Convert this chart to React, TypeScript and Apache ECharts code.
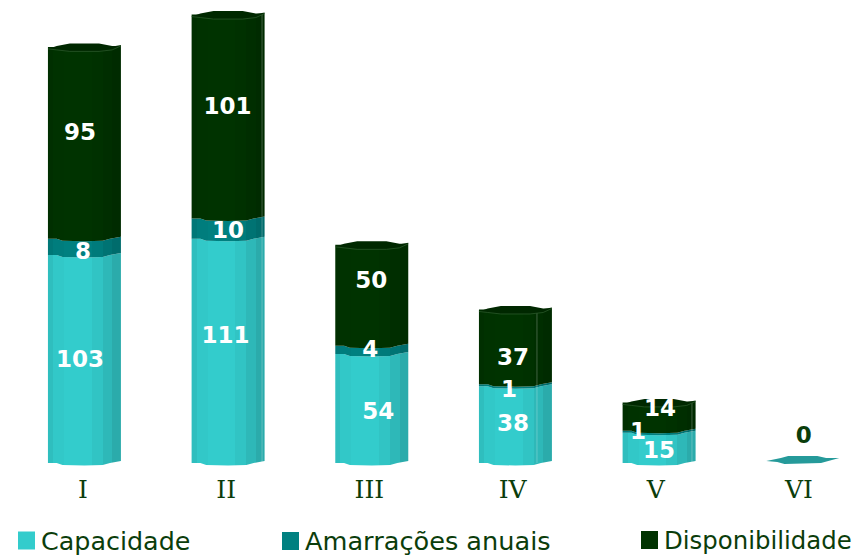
import React, { useEffect, useRef } from "react";
import * as echarts from "echarts";

const categories = ["I", "II", "III", "IV", "V", "VI"];
const capacidade = [103, 111, 54, 38, 15, 0];
const amarracoes = [8, 10, 4, 1, 1, 0];
const disponibilidade = [95, 101, 50, 37, 14, 0];
const seriesNames = ["Capacidade", "Amarrações anuais", "Disponibilidade"];

// layout only
const capOffsets = [[-4.5, 0], [-2.5, -16], [6.5, 3], [-2.5, -2], [0, 2], [0, 0]];
const amaOffsets = [[-1.5, 4], [0, 1], [-1.5, -1], [-6.5, 4], [-21, -1], [0, 0]];
const dispOffsets = [[-4.5, -11], [-0.5, -11], [-0.5, -15], [-2.5, 10], [1, -9], [1, -28]];
const edgeLines = [0, 0.965, 0, 0.795, 0.95, 0];
const legendLefts = [18, 282, 641];
const legendSizes = [25.4, 25.6, 24.4];
const FONT = "'DejaVu Sans', Verdana, sans-serif";
const INK = "#0b3d0b";

const waveT = [0, 0.12, 0.2, 0.5, 0.75, 0.85, 1];
const waveY = [0, 0, 2, 2.5, 2, 0, -2];
const capTopT = [0, 0.12, 0.3, 0.7, 0.88, 1];
const capTopY = [2, -1, -3.5, -3.5, -1, -1];
const capLowY = [2, 3, 4.5, 4.5, 3, -1];

function banded(c: number[]) {
  const stops = [0, 0.07, 0.22, 0.42, 0.6, 0.75, 0.88, 1];
  const k = [0.93, 0.98, 1, 1, 0.96, 0.9, 0.84, 0.78];
  const out: any[] = [];
  stops.forEach((s, i) => {
    const col = `rgb(${c.map((v) => Math.round(v * k[i])).join(",")})`;
    out.push({ offset: s, color: col });
    if (i < stops.length - 1) out.push({ offset: stops[i + 1], color: col });
  });
  return { type: "linear", x: 0, y: 0, x2: 1, y2: 0, colorStops: out };
}

function makeSeries(
  name: string,
  values: number[],
  below: number[],
  base: number[],
  legendColor: string,
  offsets: number[][],
  isTop: boolean
) {
  return {
    type: "custom",
    name,
    xAxisIndex: 0,
    yAxisIndex: 0,
    itemStyle: { color: legendColor },
    encode: { x: 0, y: [1, 2] },
    data: values.map((v, i) => [i, below[i], below[i] + v, v]),
    renderItem(_: any, api: any) {
      const i = api.value(0);
      const lo = api.coord([i, api.value(1)]);
      const hi = api.coord([i, api.value(2)]);
      const val = api.value(3);
      const w = api.size([1, 0])[0] * 0.508;
      const x0 = lo[0] - w / 2;
      const children: any[] = [];
      if (val > 0) {
        const pts: number[][] = [];
        waveT.forEach((t, k) => pts.push([x0 + t * w, hi[1] + waveY[k]]));
        for (let k = waveT.length - 1; k >= 0; k--) pts.push([x0 + waveT[k] * w, lo[1] + waveY[k]]);
        children.push({
          type: "polygon",
          shape: { points: pts },
          style: { fill: banded(base) },
        });
        if (edgeLines[i] > 0) {
          const ex = x0 + edgeLines[i] * w;
          children.push({
            type: "line",
            shape: { x1: ex, y1: hi[1], x2: ex, y2: lo[1] },
            style: { stroke: "rgba(255,255,255,0.25)", lineWidth: 1 },
            z2: 5,
          });
        }
      }
      if (isTop) {
        const total = api.value(2);
        const top = capTopT.map((t, k) => [x0 + t * w, hi[1] + capTopY[k]]);
        const low = capTopT.map((t, k) => [x0 + t * w, hi[1] + capLowY[k]]);
        if (total > 0) {
          children.push({
            type: "polygon",
            shape: { points: [...top, ...low.slice().reverse()] },
            style: { fill: "#002800" },
            z2: 6,
          });
          children.push({
            type: "polyline",
            shape: { points: low },
            style: { stroke: "#2f5f2f", lineWidth: 0.7, fill: "none" },
            z2: 7,
          });
        } else {
          const c = lo[1] - 3;
          children.push({
            type: "polygon",
            shape: {
              points: [
                [x0, c + 1], [x0 + 0.2 * w, c - 2], [x0 + 0.3 * w, c - 4], [x0 + 0.7 * w, c - 4],
                [x0 + 0.82 * w, c - 2], [x0 + w, c - 2], [x0 + 0.85 * w, c + 1], [x0 + 0.75 * w, c + 3],
                [x0 + 0.25 * w, c + 4], [x0 + 0.15 * w, c + 2],
              ],
            },
            style: { fill: "#259a9a" },
            z2: 6,
          });
        }
      }
      const off = offsets[i];
      const showLabel = val > 0 || isTop;
      if (showLabel) {
        children.push({
          type: "text",
          x: lo[0] + off[0],
          y: (lo[1] + hi[1]) / 2 + off[1],
          z2: 100,
          style: {
            text: String(val),
            fontFamily: FONT,
            fontWeight: "bold",
            fontSize: 23,
            fill: val === 0 ? INK : "#ffffff",
            align: "center",
            verticalAlign: "middle",
          },
        });
      }
      return { type: "group", children };
    },
  };
}

export default function App() {
  const ref = useRef<HTMLDivElement>(null);
  useEffect(() => {
    const chart = echarts.init(ref.current!, undefined, { renderer: "svg" });
    const stack1 = capacidade;
    const stack2 = capacidade.map((v, i) => v + amarracoes[i]);
    const zero = capacidade.map(() => 0);
    chart.setOption({
      animation: false,
      backgroundColor: "#ffffff",
      grid: [
        { left: 12.6, top: 8.5, width: 862, height: 454.5, outerBoundsMode: "none" },
        { left: 11.4, top: 8.5, width: 859.2, height: 454.5, outerBoundsMode: "none" },
      ],
      xAxis: [
        {
          type: "category",
          gridIndex: 0,
          data: categories,
          axisLine: { show: false },
          axisTick: { show: false },
          axisLabel: { show: false },
        },
        {
          type: "category",
          gridIndex: 1,
          data: categories,
          axisLine: { show: false },
          axisTick: { show: false },
          axisLabel: {
            interval: 0,
            margin: 14,
            color: INK,
            fontSize: 25,
            fontFamily: "'DejaVu Serif', serif",
          },
        },
      ],
      yAxis: [
        { type: "value", gridIndex: 0, min: 0, max: 225, show: false },
        { type: "value", gridIndex: 1, min: 0, max: 225, show: false },
      ],
      legend: seriesNames.map((n, i) => ({
        left: legendLefts[i],
        top: 528,
        itemWidth: 17,
        itemHeight: 18,
        icon: "rect",
        padding: 0,
        selectedMode: false,
        data: [n],
        textStyle: { color: INK, fontSize: legendSizes[i], fontFamily: FONT, padding: [0, 0, 0, 1] },
      })),
      series: [
        makeSeries(seriesNames[0], capacidade, zero, [51, 204, 204], "#33cccc", capOffsets, false),
        makeSeries(seriesNames[1], amarracoes, stack1, [0, 128, 128], "#008080", amaOffsets, false),
        makeSeries(seriesNames[2], disponibilidade, stack2, [0, 51, 0], "#003300", dispOffsets, true),
      ],
    });
    return () => chart.dispose();
  }, []);
  return <div ref={ref} style={{ position: "absolute", left: 0, top: 0, width: 855, height: 556 }} />;
}
